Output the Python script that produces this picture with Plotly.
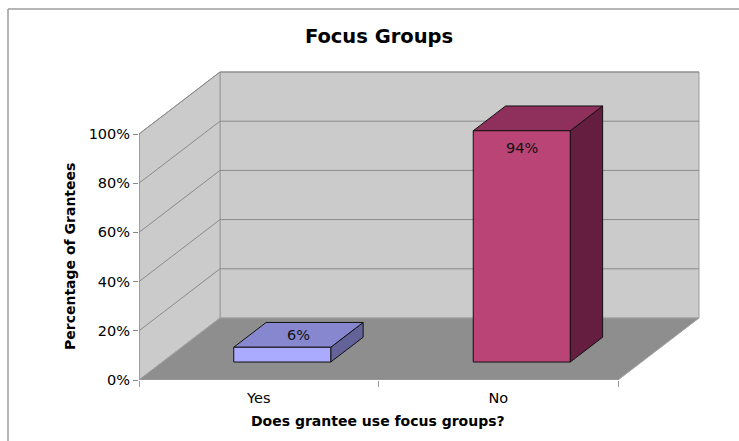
import plotly.graph_objects as go

# ---- data ----
categories = ["Yes", "No"]
percent_values = [6, 94]
y_tick_values = [0, 20, 40, 60, 80, 100]
y_tick_labels = ["0%", "20%", "40%", "60%", "80%", "100%"]

title_text = "Focus Groups"
x_title = "Does grantee use focus groups?"
y_title = "Percentage of Grantees"

# ---- layout geometry ----
W, H = 739, 441
M_L, M_R, M_T, M_B = 139, 30, 60, 61
PLOT_W = W - M_L - M_R
PLOT_H = H - M_T - M_B
CAT_PX = 239.5            # pixels per category along the front edge
PCT_PX = 2.46             # pixels per percent point
X_MAX = PLOT_W / CAT_PX
Y_MAX = PLOT_H / PCT_PX

# oblique depth projection (full depth of the floor)
DEPTH_DX = 81 / CAT_PX
DEPTH_DY = 62 / PCT_PX

BAR_WIDTH = 0.405
BAR_D0, BAR_D1 = 0.29, 0.69

FONT = "DejaVu Sans"
WALL = "#cbcbcb"
FLOOR = "#8e8e8e"
GRID = "#8a8a8a"
EDGE = "#9a9a9a"

bar_faces = [
    {"front": "#aaaaff", "top": "#8787d0", "side": "#63639a"},
    {"front": "#bb4477", "top": "#8f305c", "side": "#661e40"},
]


def proj(x, y, d):
    return x + d * DEPTH_DX, y + d * DEPTH_DY


def poly(points, closed=True):
    pts = [proj(*p) for p in points]
    path = "M " + " L ".join(f"{px:.5f},{py:.5f}" for px, py in pts)
    return path + " Z" if closed else path


def px_to_paper_x(px):
    return (px - M_L) / PLOT_W


def px_to_paper_y(py):
    return (H - M_B - py) / PLOT_H


shapes = []
n = len(categories)
top = max(y_tick_values)

# back wall, left wall, floor
shapes.append(dict(type="path", xref="x", yref="y", layer="below",
                   path=poly([(0, 0, 1), (n, 0, 1), (n, top, 1), (0, top, 1)]),
                   fillcolor=WALL, line=dict(color=EDGE, width=1)))
shapes.append(dict(type="path", xref="x", yref="y", layer="below",
                   path=poly([(0, 0, 0), (0, 0, 1), (0, top, 1), (0, top, 0)]),
                   fillcolor=WALL, line=dict(color=EDGE, width=1)))
shapes.append(dict(type="path", xref="x", yref="y", layer="below",
                   path=poly([(0, 0, 0), (n, 0, 0), (n, 0, 1), (0, 0, 1)]),
                   fillcolor=FLOOR, line=dict(color="#a0a0a0", width=1)))

# gridlines on the back and left walls
for v in y_tick_values[1:]:
    shapes.append(dict(type="path", xref="x", yref="y", layer="below",
                       path=poly([(0, v, 0), (0, v, 1), (n, v, 1)], closed=False),
                       line=dict(color=GRID, width=1)))

# front-left edge of the value axis
shapes.append(dict(type="path", xref="x", yref="y",
                   path=poly([(0, 0, 0), (0, top, 0)], closed=False),
                   line=dict(color="#888888", width=1)))

# 3-D bars
annotations = []
for i, (cat, v) in enumerate(zip(categories, percent_values)):
    c = i + 0.5
    xl, xr = c - BAR_WIDTH / 2, c + BAR_WIDTH / 2
    cols = bar_faces[i]
    outline = dict(color="#111111", width=1)
    shapes.append(dict(type="path", xref="x", yref="y",
                       path=poly([(xr, 0, BAR_D0), (xr, 0, BAR_D1), (xr, v, BAR_D1), (xr, v, BAR_D0)]),
                       fillcolor=cols["side"], line=outline))
    shapes.append(dict(type="path", xref="x", yref="y",
                       path=poly([(xl, v, BAR_D0), (xr, v, BAR_D0), (xr, v, BAR_D1), (xl, v, BAR_D1)]),
                       fillcolor=cols["top"], line=outline))
    shapes.append(dict(type="path", xref="x", yref="y",
                       path=poly([(xl, 0, BAR_D0), (xr, 0, BAR_D0), (xr, v, BAR_D0), (xl, v, BAR_D0)]),
                       fillcolor=cols["front"], line=outline))

    # value label: inside the front face for tall bars, on the top face otherwise
    if v > 50:
        lx, ly = proj(c, v, BAR_D0)
        annotations.append(dict(x=lx, y=ly, xref="x", yref="y", text=f"{v}%",
                                showarrow=False, yanchor="middle", yshift=-17,
                                font=dict(family=FONT, size=14.5, color="#111111")))
    else:
        lx, ly = proj(c, v, (BAR_D0 + BAR_D1) / 2)
        annotations.append(dict(x=lx, y=ly, xref="x", yref="y", text=f"{v}%",
                                showarrow=False, yanchor="middle",
                                font=dict(family=FONT, size=14.5, color="#111111")))

# outer frame lines of the chart area
shapes.append(dict(type="line", xref="paper", yref="paper",
                   x0=px_to_paper_x(8), x1=px_to_paper_x(W + 5),
                   y0=px_to_paper_y(9), y1=px_to_paper_y(9),
                   line=dict(color="#9c9c9c", width=1.5)))
shapes.append(dict(type="line", xref="paper", yref="paper",
                   x0=px_to_paper_x(8), x1=px_to_paper_x(8),
                   y0=px_to_paper_y(9), y1=px_to_paper_y(H + 5),
                   line=dict(color="#9c9c9c", width=1.5)))

# axis titles
annotations.append(dict(x=px_to_paper_x(378), y=px_to_paper_y(420.5), xref="paper", yref="paper",
                        text=f"<b>{x_title}</b>", showarrow=False,
                        xanchor="center", yanchor="middle",
                        font=dict(family=FONT, size=14, color="#000000")))
annotations.append(dict(x=px_to_paper_x(70), y=px_to_paper_y(257), xref="paper", yref="paper",
                        text=f"<b>{y_title}</b>", showarrow=False, textangle=-90,
                        xanchor="center", yanchor="middle",
                        font=dict(family=FONT, size=14, color="#000000")))

fig = go.Figure()
# invisible trace to establish the axes
fig.add_trace(go.Scatter(x=[0, X_MAX], y=[0, Y_MAX], mode="markers",
                         marker=dict(opacity=0), hoverinfo="skip", showlegend=False))

fig.update_layout(
    width=W, height=H,
    margin=dict(l=M_L, r=M_R, t=M_T, b=M_B, autoexpand=False),
    paper_bgcolor="white", plot_bgcolor="white",
    title=dict(text=f"<b>{title_text}</b>", x=379 / W, xanchor="center",
               y=1 - 36 / H, yanchor="middle",
               font=dict(family=FONT, size=19.5, color="#000000")),
    xaxis=dict(range=[0, X_MAX], showgrid=False, zeroline=False, showline=False,
               tickmode="array", tickvals=[i + 0.5 for i in range(n)], ticktext=categories,
               ticks="", ticklabelstandoff=7,
               minor=dict(tickmode="array", tickvals=list(range(n + 1)), ticks="outside",
                          ticklen=6, tickcolor="#999999", showgrid=False),
               tickfont=dict(family=FONT, size=14.5, color="#000000"),
               automargin=False, fixedrange=True),
    yaxis=dict(range=[0, Y_MAX], showgrid=False, zeroline=False, showline=False,
               tickmode="array", tickvals=y_tick_values, ticktext=y_tick_labels,
               ticks="outside", ticklen=5, tickcolor="#888888",
               tickfont=dict(family=FONT, size=14.5, color="#000000"),
               automargin=False, fixedrange=True),
    shapes=shapes,
    annotations=annotations,
    showlegend=False,
)

fig.write_html("out.html")
